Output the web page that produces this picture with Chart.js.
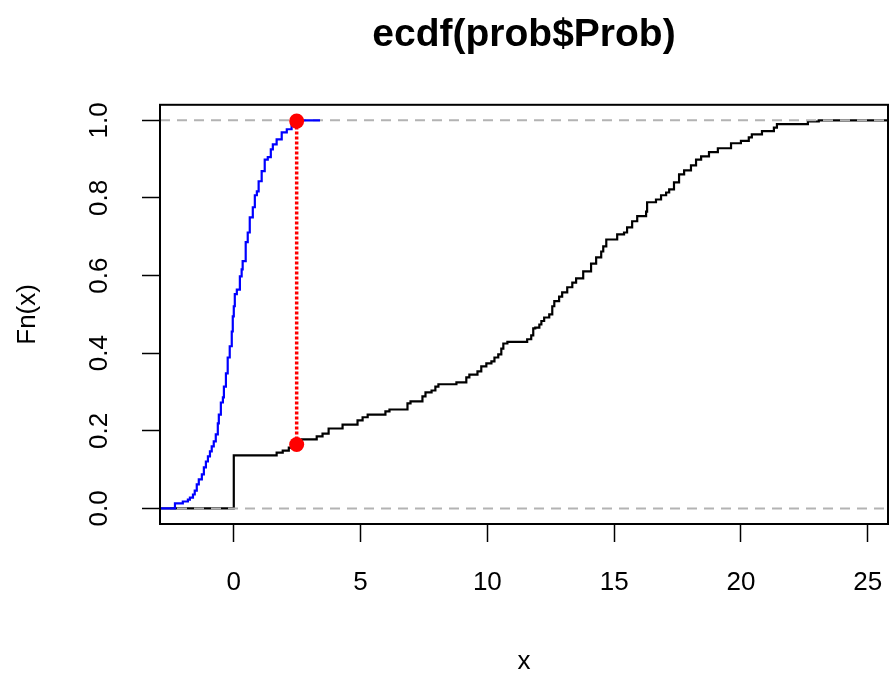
<!DOCTYPE html>
<html>
<head>
<meta charset="utf-8">
<title>ecdf(prob$Prob)</title>
<script src="https://cdn.jsdelivr.net/npm/chart.js@4"></script>
<style>
  html, body { margin: 0; padding: 0; background: #fff; }
</style>
</head>
<body>
<canvas id="chart" width="889" height="677"></canvas>
<script>
// axis limits and tick values
const xMin = -2.91, xMax = 25.8;
const yMin = -0.04, yMax = 1.04;
const xTicks = [0, 5, 10, 15, 20, 25];
const yTicks = [0, 0.2, 0.4, 0.6, 0.8, 1.0];

// ecdf(prob$Prob), black: jump positions and the level after each jump
const probX = [0.00, 1.69, 1.93, 2.17, 2.48, 2.68, 3.27, 3.50, 3.74, 4.29, 4.88, 5.08, 5.28, 5.98, 6.14,
  6.85, 6.97, 7.44, 7.56, 7.80, 7.95, 8.07, 8.78, 9.17, 9.29, 9.61, 9.76, 9.96, 10.16, 10.28, 10.43,
  10.55, 10.63, 10.79, 11.57, 11.73, 11.81, 11.89, 12.05, 12.13, 12.24, 12.44, 12.56, 12.64, 12.83,
  12.95, 13.15, 13.35, 13.50, 13.78, 14.09, 14.29, 14.49, 14.57, 14.69, 15.12, 15.39, 15.51, 15.71,
  15.91, 16.26, 16.30, 16.65, 16.85, 17.05, 17.17, 17.36, 17.56, 17.76, 18.03, 18.23, 18.43, 18.74,
  19.09, 19.61, 20.00, 20.31, 20.43, 20.83, 21.30, 21.42, 22.64, 23.07];
const probFn = [0.137, 0.144, 0.149, 0.157, 0.165, 0.178, 0.186, 0.193, 0.206, 0.216, 0.227, 0.235, 0.242,
  0.250, 0.255, 0.271, 0.276, 0.289, 0.299, 0.304, 0.314, 0.320, 0.325, 0.338, 0.345, 0.353, 0.366, 0.374,
  0.379, 0.389, 0.397, 0.412, 0.425, 0.429, 0.436, 0.446, 0.464, 0.466, 0.474, 0.483, 0.492, 0.500, 0.521,
  0.534, 0.546, 0.557, 0.570, 0.582, 0.593, 0.611, 0.631, 0.647, 0.662, 0.675, 0.693, 0.706, 0.711, 0.724,
  0.740, 0.753, 0.765, 0.789, 0.796, 0.807, 0.814, 0.822, 0.840, 0.861, 0.871, 0.884, 0.899, 0.907, 0.918,
  0.928, 0.941, 0.947, 0.956, 0.964, 0.972, 0.981, 0.990, 0.997, 1.000];

// ecdf of the reference (normal) sample, blue
const normX = [-2.32, -2.01, -1.81, -1.73, -1.61, -1.54, -1.46, -1.38, -1.26, -1.18, -1.10, -1.02, -0.94,
  -0.87, -0.79, -0.71, -0.63, -0.59, -0.51, -0.43, -0.39, -0.31, -0.24, -0.16, -0.08, -0.04, 0.00, 0.04,
  0.12, 0.24, 0.31, 0.35, 0.47, 0.55, 0.63, 0.75, 0.83, 0.91, 0.98, 1.10, 1.22, 1.34, 1.46, 1.54, 1.69,
  1.89, 2.09, 2.28, 2.40, 2.60];
const normFn = [0.013, 0.018, 0.023, 0.028, 0.036, 0.046, 0.062, 0.075, 0.088, 0.106, 0.121, 0.134, 0.147,
  0.160, 0.173, 0.191, 0.219, 0.242, 0.273, 0.286, 0.314, 0.348, 0.389, 0.418, 0.456, 0.495, 0.521, 0.552,
  0.564, 0.598, 0.616, 0.637, 0.686, 0.711, 0.750, 0.776, 0.807, 0.817, 0.843, 0.869, 0.899, 0.905, 0.925,
  0.938, 0.951, 0.969, 0.977, 0.990, 0.997, 1.000];
const normEnd = 3.4;

// largest distance between the two curves, red
const ksX = 2.48;
const ksLow = 0.165;
const ksHigh = 0.998;

const FONT = "'Liberation Sans', Arial, sans-serif";

// build step points: flat at 0 from the left edge, then one point per jump
function stepPoints(xs, ys, endX) {
  const pts = [{ x: xMin, y: 0 }];
  xs.forEach((x, i) => pts.push({ x: x, y: ys[i] }));
  pts.push({ x: endX, y: ys[ys.length - 1] });
  return pts;
}

const whiteBg = {
  id: 'whiteBg',
  beforeDraw(chart) {
    const ctx = chart.ctx;
    ctx.save();
    ctx.fillStyle = '#fff';
    ctx.fillRect(0, 0, chart.width, chart.height);
    ctx.restore();
  }
};

// R style box round the plot region
const plotBox = {
  id: 'plotBox',
  afterDatasetsDraw(chart) {
    const { ctx, chartArea: a } = chart;
    ctx.save();
    ctx.strokeStyle = '#000';
    ctx.lineWidth = 2;
    ctx.strokeRect(a.left, a.top, a.right - a.left, a.bottom - a.top);
    ctx.restore();
  }
};

const line = (data, color, width, dash) => ({
  data: data,
  showLine: true,
  stepped: true,
  borderColor: color,
  borderWidth: width,
  borderDash: dash || [],
  pointRadius: 0,
  fill: false
});

new Chart(document.getElementById('chart'), {
  type: 'scatter',
  data: {
    datasets: [
      // first dataset is drawn on top
      {
        data: [{ x: ksX, y: ksLow }, { x: ksX, y: ksHigh }],
        showLine: true,
        borderColor: '#ff0000',
        borderWidth: 3.5,
        borderDash: [3, 2],
        pointRadius: 7.5,
        pointBackgroundColor: '#ff0000',
        pointBorderWidth: 0
      },
      line(stepPoints(normX, normFn, normEnd), '#0000ff', 2.2),
      line([{ x: xMin, y: 1 }, { x: xMax, y: 1 }], '#b3b3b3', 2, [10, 7]),
      line([{ x: xMin, y: 0 }, { x: xMax, y: 0 }], '#b3b3b3', 2, [10, 7]),
      line(stepPoints(probX, probFn, xMax), '#000000', 2.2)
    ]
  },
  options: {
    responsive: false,
    animation: false,
    events: [],
    layout: { autoPadding: false, padding: { left: 0, right: 1, top: 0, bottom: 0 } },
    plugins: {
      legend: { display: false },
      tooltip: { enabled: false },
      title: {
        display: true,
        text: 'ecdf(prob$Prob)',
        fullSize: false,
        color: '#000',
        font: { family: FONT, size: 39, weight: 'bold', lineHeight: 1.2 },
        padding: { top: 12, bottom: 46 }
      }
    },
    scales: {
      x: {
        type: 'linear',
        min: xMin,
        max: xMax,
        afterBuildTicks: (scale) => { scale.ticks = xTicks.map(v => ({ value: v })); },
        afterFit: (scale) => {
          scale.height = 153;
          scale.paddingLeft = 0;
          scale.paddingRight = 0;
        },
        border: { display: false },
        grid: { drawOnChartArea: false, drawTicks: true, tickLength: 18, tickWidth: 1.5, tickColor: '#000' },
        ticks: {
          autoSkip: false,
          maxRotation: 0,
          padding: 25,
          color: '#000',
          font: { family: FONT, size: 26 },
          callback: (v) => String(v)
        },
        title: {
          display: true,
          text: 'x',
          color: '#000',
          font: { family: FONT, size: 26, lineHeight: 1.2 },
          padding: { top: 0, bottom: 0 }
        }
      },
      y: {
        type: 'linear',
        min: yMin,
        max: yMax,
        afterBuildTicks: (scale) => { scale.ticks = yTicks.map(v => ({ value: v })); },
        afterFit: (scale) => {
          scale.width = 160;
          scale.paddingTop = 0;
          scale.paddingBottom = 0;
        },
        border: { display: false },
        grid: { drawOnChartArea: false, drawTicks: true, tickLength: 18, tickWidth: 1.5, tickColor: '#000' },
        ticks: {
          autoSkip: false,
          minRotation: 90,
          maxRotation: 90,
          crossAlign: 'center',
          padding: 24,
          color: '#000',
          font: { family: FONT, size: 26 },
          callback: (v) => v.toFixed(1)
        },
        title: {
          display: true,
          text: 'Fn(x)',
          color: '#000',
          font: { family: FONT, size: 26, lineHeight: 1.2 },
          padding: { top: 12, bottom: 0 }
        }
      }
    }
  },
  plugins: [whiteBg, plotBox]
});
</script>
</body>
</html>
